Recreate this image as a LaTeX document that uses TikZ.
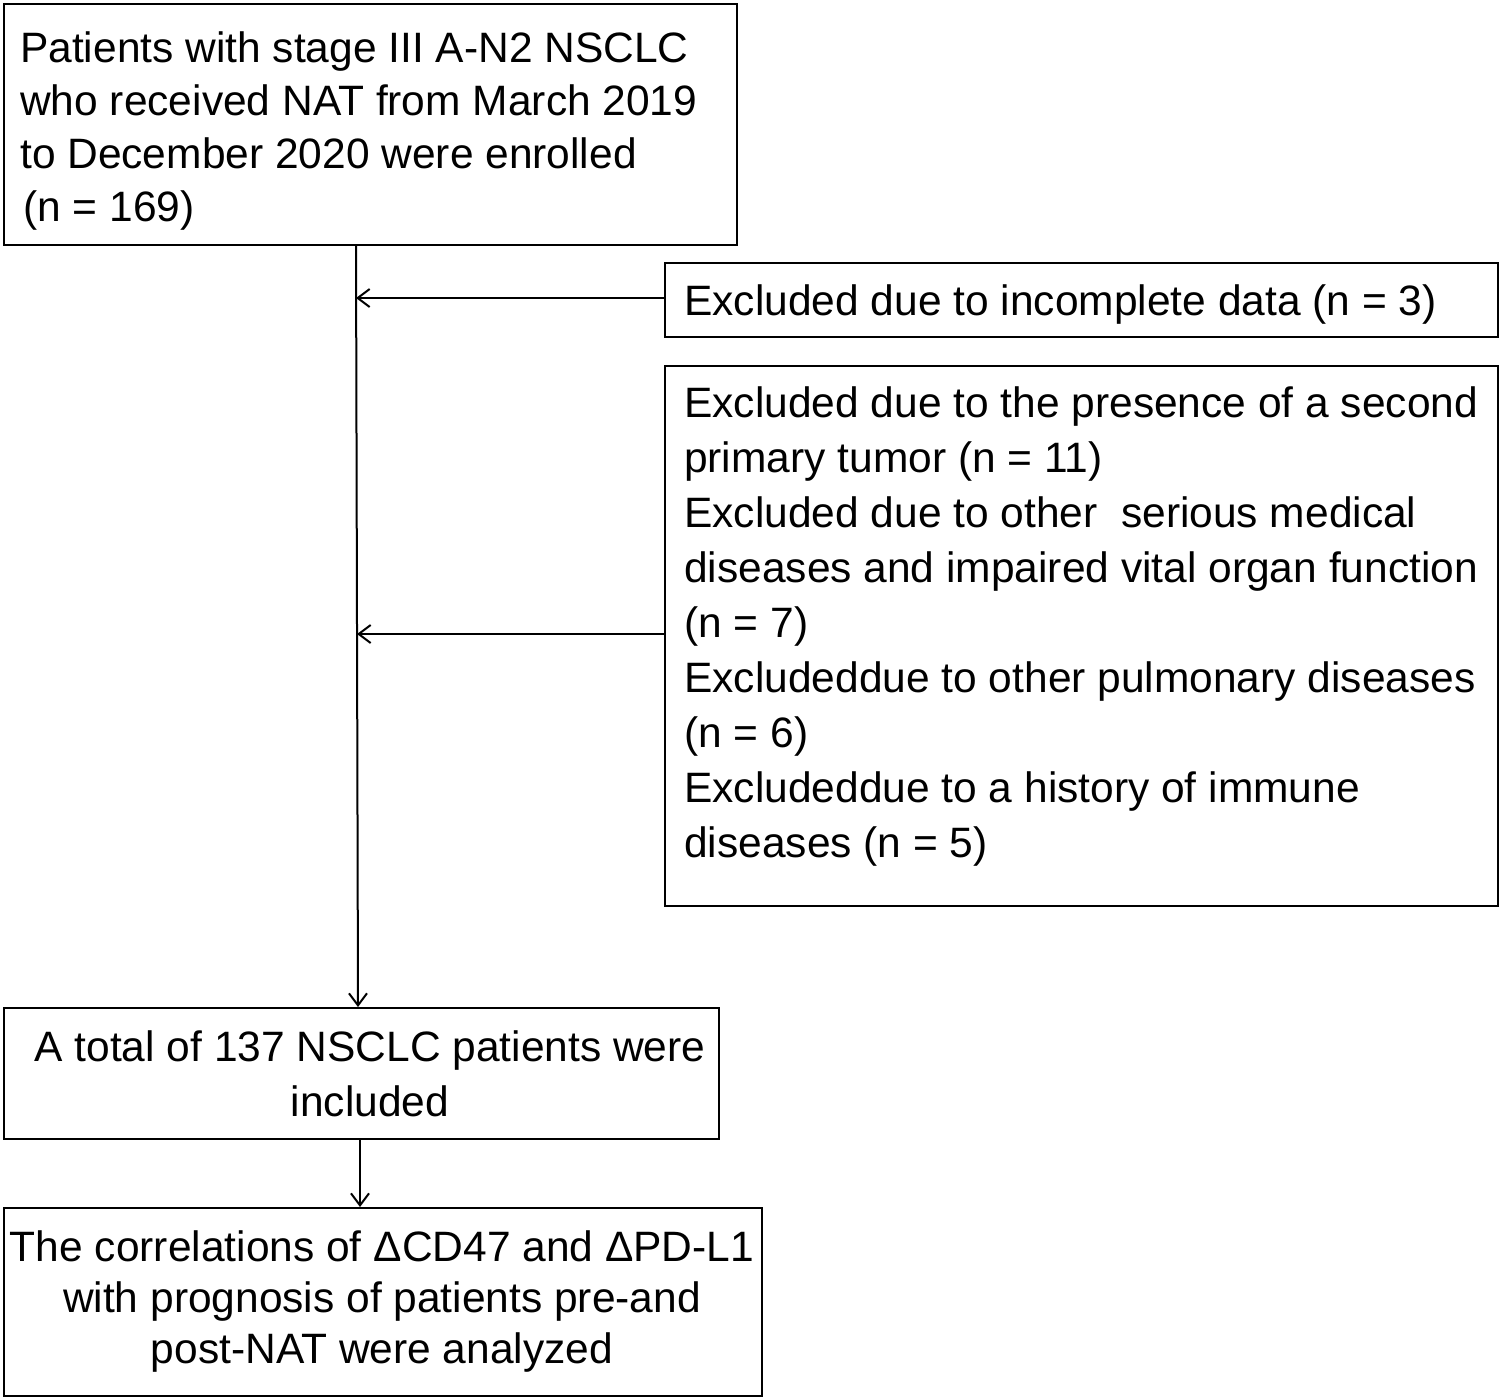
\documentclass[tikz,border=0pt]{standalone}
\usepackage{fontspec}
\setmainfont{Liberation Sans}
\usetikzlibrary{arrows.meta}
\begin{document}
\begin{tikzpicture}[x=1pt,y=-1pt,
  box/.style={draw,line width=2pt,anchor=north west,inner sep=0pt},
  txt/.style={anchor=north west,inner sep=0pt,align=left,font=\fontsize{42.5}{53}\selectfont},
  ctxt/.style={anchor=north,inner sep=0pt,align=center,font=\fontsize{42.5}{52}\selectfont},
  arr/.style={line width=2pt,-{Straight Barb[length=12pt,width=18pt,line width=2pt]}}]
\useasboundingbox (0,0) rectangle (1499,1398);
\node[box,minimum width=733pt,minimum height=241pt] (b1) at (3,3) {};
\node[box,minimum width=833pt,minimum height=74pt] (b2) at (664,262) {};
\node[box,minimum width=833pt,minimum height=540pt] (b3) at (664,365) {};
\node[box,minimum width=715pt,minimum height=131pt] (b4) at (3,1007) {};
\node[box,minimum width=758pt,minimum height=188pt] (b5) at (3,1207) {};
\node[txt] (t1) at (20,31) {\rule{0pt}{31pt}Patients with stage III A-N2 NSCLC\\who received NAT from March 2019\\to December 2020 were enrolled\\\hspace*{3pt}(n = 169)};
\node[txt] (t2) at (684,284) {\rule{0pt}{31pt}Excluded due to incomplete data (n = 3)};
\node[txt,font=\fontsize{42.5}{55}\selectfont] (t3) at (684,386) {\rule{0pt}{31pt}Excluded due to the presence of a second\\primary tumor (n = 11)\\Excluded due to other\ \ serious medical\\diseases and impaired vital organ function\\(n = 7)\\Excludeddue to other pulmonary diseases\\(n = 6)\\Excludeddue to a history of immune\\diseases (n = 5)};
\node[ctxt,font=\fontsize{42.5}{55}\selectfont] (t4) at (370,1030) {\rule{0pt}{31pt}A total of 137 NSCLC patients were\\included};
\node[ctxt,font=\fontsize{42.5}{51}\selectfont] (t5) at (382,1230) {\rule{0pt}{31pt}The correlations of ΔCD47 and ΔPD-L1\\with prognosis of patients pre-and\\post-NAT were analyzed};
\coordinate (top) at (356,244);
\coordinate (m1) at (356,298);
\coordinate (m2) at (357,634);
\draw[arr] (top) -- (358,1007);
\draw[arr] (b2.west |- m1) -- (m1);
\draw[arr] (664,634) -- (m2);
\draw[arr] (360,1138) -- (360,1207);
\end{tikzpicture}
\end{document}
